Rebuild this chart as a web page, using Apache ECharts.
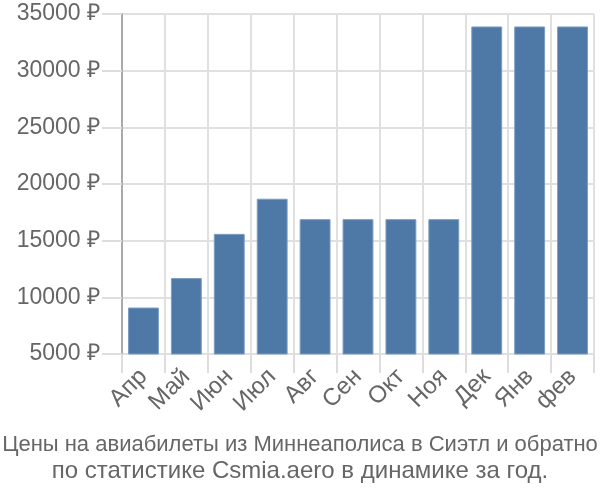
<!DOCTYPE html>
<html><head><meta charset="utf-8">
<script src="https://cdn.jsdelivr.net/npm/echarts@6/dist/echarts.min.js"></script>
<style>html,body{margin:0;padding:0;background:#fff}#c{width:600px;height:500px}</style>
</head><body><div id="c"></div>
<script>
const categories = ['Апр','Май','Июн','Июл','Авг','Сен','Окт','Ноя','Дек','Янв','фев'];
const prices = [9100, 11700, 15600, 18700, 16900, 16900, 16900, 16900, 33900, 33900, 33900];
const yTicks = [5000, 10000, 15000, 20000, 25000, 30000, 35000];
const titleLines = ['Цены на авиабилеты из Миннеаполиса в Сиэтл и обратно', 'по статистике Csmia.aero в динамике за год.'];

const titleStyle = {fontSize: 22, fontWeight: 'normal', color: '#666', fontFamily: 'Liberation Sans, Arial, sans-serif'};
const chart = echarts.init(document.getElementById('c'));
chart.setOption({
  animation: false,
  textStyle: {fontFamily: 'Liberation Sans, Arial, sans-serif'},
  title: [
    {text: titleLines[0], left: 'center', top: 434, padding: 0, textStyle: titleStyle},
    {text: titleLines[1], left: 'center', top: 459, padding: 0, textStyle: Object.assign({}, titleStyle, {fontSize: 24})}
  ],
  grid: {left: 122, right: 6, top: 14, bottom: 146, containLabel: false},
  xAxis: {
    type: 'category', data: categories,
    boundaryGap: true,
    axisLine: {show: false},
    axisTick: {show: true, alignWithLabel: false, length: 19, lineStyle: {color: '#ddd', width: 2}},
    splitLine: {show: true, lineStyle: {color: '#e0e0e0', width: 2}},
    axisLabel: {rotate: 45, fontSize: 24, color: '#666', margin: 19, interval: 0}
  },
  yAxis: {
    type: 'value', min: yTicks[0], max: yTicks[yTicks.length-1], interval: 5000,
    axisLine: {show: true, lineStyle: {color: '#aaa', width: 2}},
    axisTick: {show: true, length: 20, lineStyle: {color: '#ddd', width: 2}},
    splitLine: {show: true, lineStyle: {color: '#e0e0e0', width: 2}},
    axisLabel: {fontSize: 23, color: '#666', margin: 22, formatter: v => v + ' ₽'}
  },
  series: [{
    type: 'bar', data: prices, barCategoryGap: '28%',
    itemStyle: {color: '#4e79a7', borderColor: '#7d9ec2', borderWidth: 1}
  }]
});
</script></body></html>
